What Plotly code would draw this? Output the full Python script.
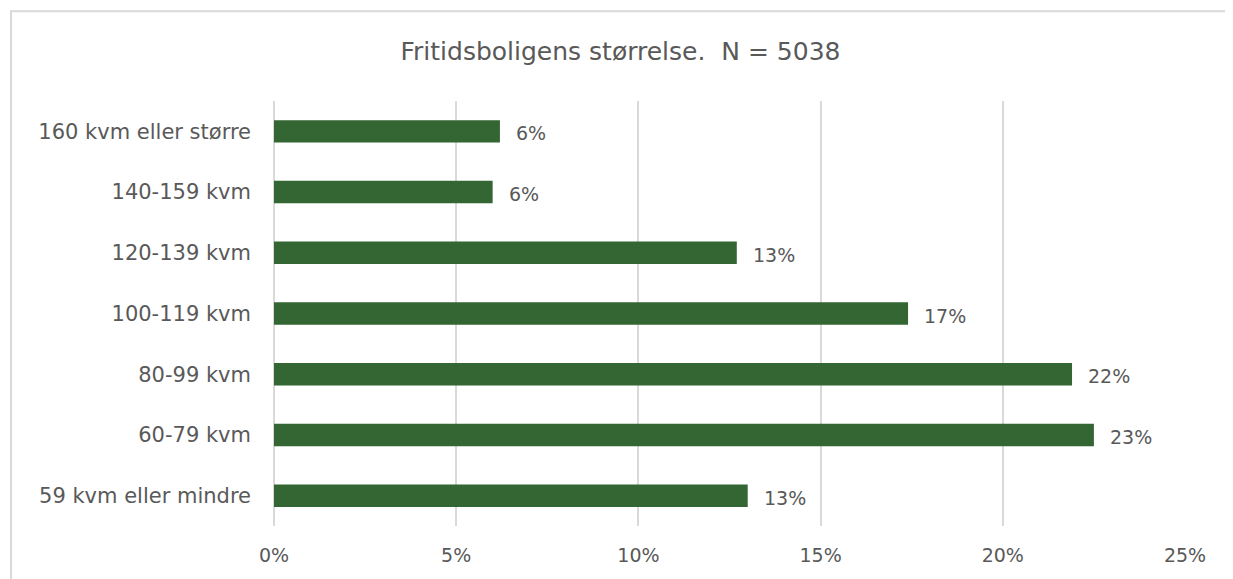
import plotly.graph_objects as go

# categories bottom -> top, shares in percent
categories = ["59 kvm eller mindre", "60-79 kvm", "80-99 kvm", "100-119 kvm",
              "120-139 kvm", "140-159 kvm", "160 kvm eller større"]
shares = [13.0, 22.5, 21.9, 17.4, 12.7, 6.0, 6.2]
labels = ["13%", "23%", "22%", "17%", "13%", "6%", "6%"]
xticks = [0, 5, 10, 15, 20, 25]
xticklabels = ["0%", "5%", "10%", "15%", "20%", "25%"]

FONT = "DejaVu Sans"
GREY = "#595959"

fig = go.Figure()
fig.add_trace(go.Bar(
    x=shares, y=categories, orientation="h",
    marker=dict(color="#336633", line=dict(width=0)),
    width=0.37, hoverinfo="skip",
))

for v, c, t in zip(shares, categories, labels):
    fig.add_annotation(x=v, y=c, text=t, showarrow=False, xanchor="left",
                       xshift=14, yshift=-2,
                       font=dict(family=FONT, size=19, color=GREY))

# outer chart border (right and bottom edges fall outside the picture)
fig.add_shape(type="rect", xref="paper", yref="paper",
              x0=-263 / 911, x1=1218 / 911, y0=-0.3, y1=1.211,
              line=dict(color="#d9d9d9", width=2), layer="below")

# page body has an 8px margin, so the figure is sized to fit inside it
fig.update_layout(
    width=1225, height=571,
    margin=dict(l=266, r=48, t=93, b=53),
    plot_bgcolor="white", paper_bgcolor="white",
    showlegend=False,
    title=dict(text="Fritidsboligens størrelse.  N = 5038", x=0.5, xanchor="center",
               y=0.925, yanchor="middle",
               font=dict(family=FONT, size=25, color=GREY)),
    font=dict(family=FONT, color=GREY),
)
fig.update_xaxes(range=[0, 25], tickvals=xticks, ticktext=xticklabels,
                 showgrid=True, gridcolor="#d9d9d9", gridwidth=1.5,
                 zeroline=True, zerolinecolor="#d9d9d9", zerolinewidth=1.5,
                 ticks="", tickfont=dict(family=FONT, size=19, color=GREY),
                 ticklabelstandoff=16, fixedrange=True)
fig.update_yaxes(categoryorder="array", categoryarray=categories,
                 range=[-0.5, 6.5], showgrid=False, zeroline=False,
                 ticks="", tickfont=dict(family=FONT, size=21, color=GREY),
                 ticklabelstandoff=22, fixedrange=True)

fig.write_html("out.html")
